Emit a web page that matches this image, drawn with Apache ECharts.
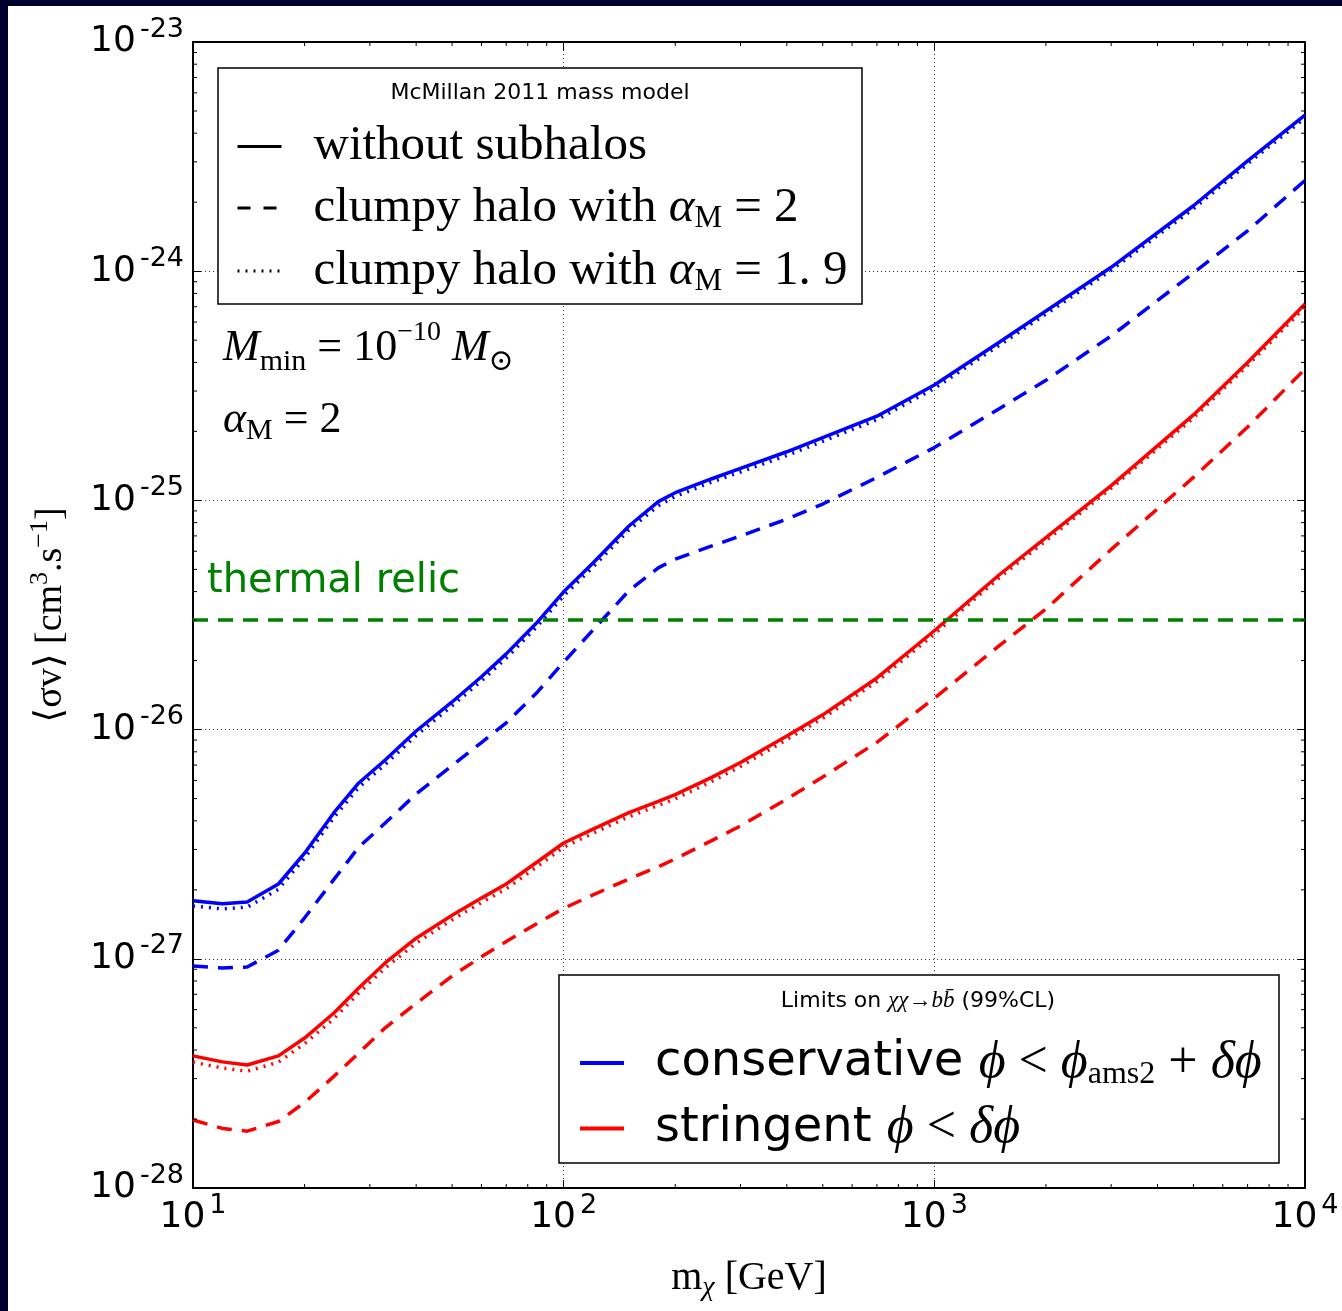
<!DOCTYPE html>
<html><head><meta charset="utf-8">
<script src="https://cdn.jsdelivr.net/npm/echarts@6/dist/echarts.min.js"></script>
<style>
html,body{margin:0;padding:0;background:#00002e;width:1342px;height:1311px;overflow:hidden;}
#c{position:absolute;left:8px;top:6px;width:1334px;height:1305px;background:#fff;}
</style></head><body><div id="c"></div>
<script>
// Dark matter mass m_chi [GeV]
const masses = [10,12,14,17,20,24,28,33,40,50,60,70,85,100,120,150,180,200,250,300,400,500,700,1000,1500,2000,3000,5000,7000,10000];
// <sigma v> limits, in units of 1e-26 cm^3 s^-1
const consNoSub = [0.179,0.174,0.177,0.212,0.289,0.434,0.585,0.737,0.986,1.32,1.70,2.14,2.95,3.99,5.33,7.73,9.88,10.8,12.4,13.8,16.3,18.8,23.3,31.9,49.1,67.0,104,193,303,480];
const consAlpha19 = [0.170,0.165,0.168,0.201,0.275,0.414,0.559,0.704,0.942,1.27,1.63,2.05,2.83,3.83,5.12,7.42,9.48,10.4,12.0,13.3,15.7,18.1,22.5,30.8,47.6,65.0,101,187,294,466];
const consAlpha2 = [0.0930,0.0912,0.0921,0.109,0.151,0.222,0.307,0.391,0.524,0.697,0.878,1.07,1.46,1.97,2.72,4.04,5.08,5.54,6.32,6.99,8.29,9.64,12.6,17.0,25.2,33.4,52.2,98.2,150,249];
const strNoSub = [0.0377,0.0355,0.0344,0.0377,0.0451,0.0580,0.0746,0.0959,0.123,0.155,0.184,0.212,0.265,0.320,0.368,0.434,0.486,0.520,0.617,0.719,0.938,1.16,1.68,2.70,4.75,6.88,11.6,23.6,40.0,71.9];
const strAlpha19 = [0.0354,0.0334,0.0323,0.0354,0.0426,0.0548,0.0709,0.0911,0.117,0.148,0.176,0.202,0.253,0.307,0.353,0.417,0.467,0.499,0.592,0.690,0.905,1.12,1.62,2.61,4.61,6.67,11.3,22.9,38.8,69.7];
const strAlpha2 = [0.0198,0.0182,0.0177,0.0195,0.0236,0.0307,0.0388,0.0500,0.0639,0.0841,0.102,0.119,0.143,0.166,0.190,0.223,0.252,0.273,0.327,0.380,0.498,0.621,0.880,1.37,2.33,3.36,6.11,12.6,20.9,37.4];
const thermalRelic = 3.0; // 3e-26

// axes (y in units of 1e-26)
const xMin = 10, xMax = 10000;
const yMin = 0.01, yMax = 1000;
const xTickExps = ['1','2','3','4'];          // labels for 10,100,1000,10000
const yTickExps = ['-28','-27','-26','-25','-24','-23']; // labels for 0.01..1000
const minorMantissas = [2,3,4,5,6,7,8,9];

// legend texts
const legend1Keys = ['noSub','clump2','clump19'];
const legend1Texts = ['{r|without subhalos}','{r|clumpy halo with }{i|α}{sub|M}{r| = 2}','{r|clumpy halo with }{i|α}{sub|M}{r| = 1. 9}'];
const legend2Keys = ['cons','strin'];
const legend2Texts = ['{s|conservative }{m|ϕ}{r| < }{m|ϕ}{sub|ams2}{r| + }{m|δϕ}','{s|stringent }{m|ϕ}{r| < }{m|δϕ}'];

const pair = arr => masses.map((m,i)=>[m, arr[i]]);

const xMinor = [], yMinor = [];
for (let e = 1; e < 4; e++) minorMantissas.forEach(k => xMinor.push(k*Math.pow(10,e)));
for (let e = -2; e < 3; e++) minorMantissas.forEach(k => yMinor.push(+(k*Math.pow(10,e)).toPrecision(6)));

const SERIF = '"Liberation Serif", "DejaVu Serif", serif';
const SANS = '"DejaVu Sans", sans-serif';
const minorLen = 4;

const chart = echarts.init(document.getElementById('c'), null, {renderer:'canvas'});

const tickRich = {
  b:{fontFamily:SANS, fontSize:36, lineHeight:52, color:'#000'},
  s:{fontFamily:SANS, fontSize:27, lineHeight:27, verticalAlign:'top', padding:[0,0,0,4], color:'#000'}
};

function lineSeries(name, arr, color, type, width) {
  return {name, type:'line', data: pair(arr), symbol:'none', showSymbol:false, smooth:false,
    color, lineStyle:{color, width, type, cap:'butt'}, emphasis:{disabled:true}, silent:true, z:2};
}
function dummy(name, color, type, width) {
  return {name, type:'line', data:[], symbol:'none', color, lineStyle:{color, width, type, cap:'butt'}, silent:true};
}

const option = {
  animation:false,
  textStyle:{fontFamily:SANS},
  grid:{left:185, top:36, right:37, bottom:123, containLabel:false, outerBoundsMode:'none', show:false},
  xAxis:[{
    type:'log', logBase:10, min:xMin, max:xMax, position:'bottom',
    axisLine:{show:true, lineStyle:{color:'#000', width:2}},
    axisTick:{show:true, inside:true, length:8, lineStyle:{color:'#000', width:1}},
    minorTick:{show:false},
    axisLabel:{show:true, margin:4, showMinLabel:true, showMaxLabel:true, rich:tickRich,
      formatter: v => '{b|10}{s|' + xTickExps[Math.round(Math.log10(v)) - 1] + '}'},
    splitLine:{show:true, lineStyle:{color:'#333', width:1, type:[1,3]}},
    name:'{a|m}{b|χ}{a| [GeV]}', nameLocation:'middle', nameGap:66,
    nameTextStyle:{rich:{
      a:{fontFamily:SERIF, fontSize:40, lineHeight:48, color:'#000'},
      b:{fontFamily:SERIF, fontStyle:'italic', fontSize:28, lineHeight:32, verticalAlign:'bottom', color:'#000'}
    }}
  },{
    type:'log', logBase:10, min:xMin, max:xMax, position:'top',
    axisLine:{show:true, lineStyle:{color:'#000', width:2}},
    axisTick:{show:true, inside:true, length:8, lineStyle:{color:'#000', width:1}},
    axisLabel:{show:false}, splitLine:{show:false}
  }],
  yAxis:[{
    type:'log', logBase:10, min:yMin, max:yMax, position:'left',
    axisLine:{show:true, lineStyle:{color:'#000', width:2}},
    axisTick:{show:true, inside:true, length:8, lineStyle:{color:'#000', width:1}},
    minorTick:{show:false},
    axisLabel:{show:true, margin:9, showMinLabel:true, showMaxLabel:true, rich:tickRich,
      formatter: v => '{b|10}{s|' + yTickExps[Math.round(Math.log10(v)) + 2] + '}'},
    splitLine:{show:true, lineStyle:{color:'#333', width:1, type:[1,3]}},
    name:'{a|⟨σv⟩ [cm}{p|3}{a|.s}{p|−1}{a|]}', nameLocation:'middle', nameGap:118, nameRotate:90,
    nameTextStyle:{rich:{
      a:{fontFamily:SERIF, fontSize:38, lineHeight:48, color:'#000'},
      p:{fontFamily:SERIF, fontSize:26, lineHeight:26, verticalAlign:'top', color:'#000'}
    }}
  },{
    type:'log', logBase:10, min:yMin, max:yMax, position:'right',
    axisLine:{show:true, lineStyle:{color:'#000', width:2}},
    axisTick:{show:true, inside:true, length:8, lineStyle:{color:'#000', width:1}},
    axisLabel:{show:false}, splitLine:{show:false}
  }],
  legend:[{
    data: legend1Keys, orient:'vertical', left:228, top:116, padding:0, itemGap:12.5, itemWidth:44, itemHeight:20,
    selectedMode:false, z:6, itemStyle:{opacity:0}, lineStyle:{width:3},
    formatter: n => legend1Texts[legend1Keys.indexOf(n)],
    textStyle:{padding:[0,0,0,27], color:'#000', rich:{
      r:{fontFamily:SERIF, fontSize:49, lineHeight:52, color:'#000'},
      i:{fontFamily:SERIF, fontStyle:'italic', fontSize:49, lineHeight:52, color:'#000'},
      sub:{fontFamily:SERIF, fontSize:31, lineHeight:34, verticalAlign:'bottom', color:'#000'}
    }}
  },{
    data: legend2Keys, orient:'vertical', left:570, top:1031, padding:0, itemGap:11.5, itemWidth:44, itemHeight:20,
    selectedMode:false, z:6, itemStyle:{opacity:0}, lineStyle:{width:4},
    formatter: n => legend2Texts[legend2Keys.indexOf(n)],
    textStyle:{padding:[0,0,0,26], color:'#000', rich:{
      s:{fontFamily:SANS, fontSize:48, lineHeight:56, color:'#000'},
      r:{fontFamily:SERIF, fontSize:52, lineHeight:56, color:'#000'},
      m:{fontFamily:SERIF, fontStyle:'italic', fontSize:52, lineHeight:56, color:'#000'},
      sub:{fontFamily:SERIF, fontSize:32, lineHeight:36, verticalAlign:'bottom', color:'#000'}
    }}
  }],
  graphic:[
    {type:'rect', z:3, silent:true, shape:{x:210, y:62, width:644, height:236}, style:{fill:'#fff', stroke:'#000', lineWidth:1.5}},
    {type:'text', z:5, silent:true, style:{x:532, y:87, text:'McMillan 2011 mass model', font:'22px "DejaVu Sans"', fill:'#000', align:'center', verticalAlign:'middle', textAlign:'center', textVerticalAlign:'middle'}},
    {type:'rect', z:3, silent:true, shape:{x:551, y:969, width:720, height:188}, style:{fill:'#fff', stroke:'#000', lineWidth:1.5}},
    {type:'text', z:5, silent:true, style:{x:910, y:995, text:'{s|Limits on }{m|χχ→bb̄}{s| (99%CL)}', align:'center', verticalAlign:'middle', textAlign:'center', textVerticalAlign:'middle',
      rich:{s:{fontFamily:SANS, fontSize:22, lineHeight:28, fill:'#000', color:'#000'}, m:{fontFamily:SERIF, fontStyle:'italic', fontSize:23, lineHeight:28, fill:'#000', color:'#000'}}}},
    {type:'text', z:5, silent:true, style:{x:215, y:342, text:'{i|M}{sub|min}{r| = 10}{sup|−10}{r| }{i|M}{sub|⊙}', align:'left', verticalAlign:'middle', textAlign:'left', textVerticalAlign:'middle',
      rich:{
        i:{fontFamily:SERIF, fontStyle:'italic', fontSize:44, lineHeight:58, fill:'#000', color:'#000'},
        r:{fontFamily:SERIF, fontSize:44, lineHeight:58, fill:'#000', color:'#000'},
        sup:{fontFamily:SERIF, fontSize:28, lineHeight:28, verticalAlign:'top', fill:'#000', color:'#000'},
        sub:{fontFamily:SERIF, fontSize:30, lineHeight:34, verticalAlign:'bottom', fill:'#000', color:'#000'}
      }}},
    {type:'text', z:5, silent:true, style:{x:215, y:414, text:'{i|α}{sub|M}{r| = 2}', align:'left', verticalAlign:'middle', textAlign:'left', textVerticalAlign:'middle',
      rich:{
        i:{fontFamily:SERIF, fontStyle:'italic', fontSize:44, lineHeight:52, fill:'#000', color:'#000'},
        r:{fontFamily:SERIF, fontSize:44, lineHeight:52, fill:'#000', color:'#000'},
        sub:{fontFamily:SERIF, fontSize:30, lineHeight:34, verticalAlign:'bottom', fill:'#000', color:'#000'}
      }}}
  ],
  series:[
    {name:'thermal', type:'line', data:[], symbol:'none', silent:true,
      markLine:{silent:true, symbol:['none','none'], animation:false, data:[{yAxis: thermalRelic}],
        lineStyle:{color:'#008000', width:3.5, type:[15,10]},
        label:{show:true, position:'insideStartTop', formatter:'thermal relic', color:'#008000', fontSize:40, fontFamily:SANS, distance:[14, 19]},
        emphasis:{disabled:true}}},
    lineSeries('c19', consAlpha19, '#0000ff', [2,6], 3.5),
    lineSeries('c2', consAlpha2, '#0000ff', [15,10], 3.5),
    lineSeries('c0', consNoSub, '#0000ff', 'solid', 3.5),
    lineSeries('s19', strAlpha19, '#ff0000', [2,6], 3.5),
    lineSeries('s2', strAlpha2, '#ff0000', [15,10], 3.5),
    lineSeries('s0', strNoSub, '#ff0000', 'solid', 3.5),
    dummy('noSub', '#000', 'solid', 3),
    dummy('clump2', '#000', [13,13], 3),
    dummy('clump19', '#000', [2,6], 3),
    dummy('cons', '#0000ff', 'solid', 4),
    dummy('strin', '#ff0000', 'solid', 4),
    {type:'custom', name:'yMinorTicks', silent:true, clip:false, z:6, data: yMinor.map(v=>[xMin, v]), encode:{x:0, y:1},
      renderItem:(params, api)=>{
        const cs = params.coordSys;
        const y = api.coord([api.value(0), api.value(1)])[1];
        return {type:'group', children:[
          {type:'line', shape:{x1:cs.x, y1:y, x2:cs.x+minorLen, y2:y}, style:{stroke:'#000', lineWidth:1}},
          {type:'line', shape:{x1:cs.x+cs.width-minorLen, y1:y, x2:cs.x+cs.width, y2:y}, style:{stroke:'#000', lineWidth:1}}
        ]};
      }},
    {type:'custom', name:'xMinorTicks', silent:true, clip:false, z:6, data: xMinor.map(v=>[v, yMin]), encode:{x:0, y:1},
      renderItem:(params, api)=>{
        const cs = params.coordSys;
        const x = api.coord([api.value(0), api.value(1)])[0];
        return {type:'group', children:[
          {type:'line', shape:{x1:x, y1:cs.y+cs.height, x2:x, y2:cs.y+cs.height-minorLen}, style:{stroke:'#000', lineWidth:1}},
          {type:'line', shape:{x1:x, y1:cs.y, x2:x, y2:cs.y+minorLen}, style:{stroke:'#000', lineWidth:1}}
        ]};
      }}
  ]
};
chart.setOption(option);
</script></body></html>
